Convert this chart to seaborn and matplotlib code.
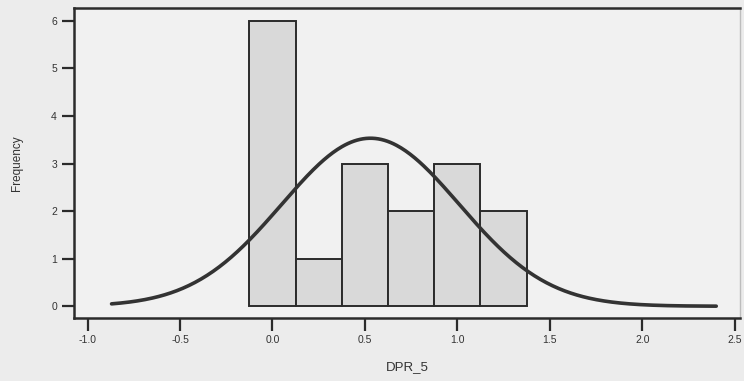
import numpy as np
import pandas as pd
import matplotlib
matplotlib.use("Agg")
import matplotlib.pyplot as plt
import seaborn as sns

# Histogram of DPR_5 (bin width 0.25)
bin_centers = [0.0, 0.25, 0.5, 0.75, 1.0, 1.25]
frequencies = [6, 1, 3, 2, 3, 2]
bin_width = 0.25

# Fitted normal curve parameters
curve_mean = 0.53
curve_sd = 0.48
curve_range = [-0.87, 2.4]

x_ticks = [-1.0, -0.5, 0.0, 0.5, 1.0, 1.5, 2.0, 2.5]
x_tick_labels = ["-1.0", "-0.5", "0.0", "0.5", "1.0", "1.5", "2.0", "2.5"]
y_ticks = [0, 1, 2, 3, 4, 5, 6]

sns.set_theme(style="white")
plt.rcParams["font.family"] = ["Liberation Sans", "DejaVu Sans"]

fig = plt.figure(figsize=(7.44, 3.81), dpi=100)
fig.patch.set_facecolor("#ececec")
ax = fig.add_axes([0.099, 0.165, 0.896, 0.814])
ax.set_facecolor("#f1f1f1")

hist_df = pd.DataFrame({"DPR_5": bin_centers, "count": frequencies})
sns.histplot(data=hist_df, x="DPR_5", weights="count",
             binwidth=bin_width,
             binrange=(bin_centers[0] - bin_width / 2,
                       bin_centers[-1] + bin_width / 2),
             color="#d9d9d9", edgecolor="#2b2b2b", linewidth=1.4,
             alpha=1.0, ax=ax)

n_total = sum(frequencies)
xs = np.linspace(curve_range[0], curve_range[1], 400)
ys = (n_total * bin_width / (curve_sd * np.sqrt(2 * np.pi))
      * np.exp(-0.5 * ((xs - curve_mean) / curve_sd) ** 2))
curve_df = pd.DataFrame({"x": xs, "y": ys})
sns.lineplot(data=curve_df, x="x", y="y", color="#333333",
             linewidth=2.6, ax=ax)

ax.set_xlim(-1.075, 2.53)
ax.set_ylim(-0.25, 6.27)
ax.set_xticks(x_ticks)
ax.set_xticklabels(x_tick_labels)
ax.set_yticks(y_ticks)
ax.tick_params(axis="both", which="major", direction="out", length=9,
               width=1.6, color="#2b2b2b", labelsize=7.5,
               labelcolor="#333333", left=True, bottom=True, pad=3)

for side in ["left", "bottom", "top"]:
    ax.spines[side].set_visible(True)
    ax.spines[side].set_color("#2b2b2b")
    ax.spines[side].set_linewidth(1.8)
ax.spines["right"].set_color("#bdbdbd")
ax.spines["right"].set_linewidth(1.0)

ax.set_xlabel("DPR_5", fontsize=9.5, color="#333333", labelpad=12)
ax.set_ylabel("Frequency", fontsize=8.5, color="#333333", labelpad=20)

fig.savefig("out.png", dpi=100, facecolor=fig.get_facecolor())
